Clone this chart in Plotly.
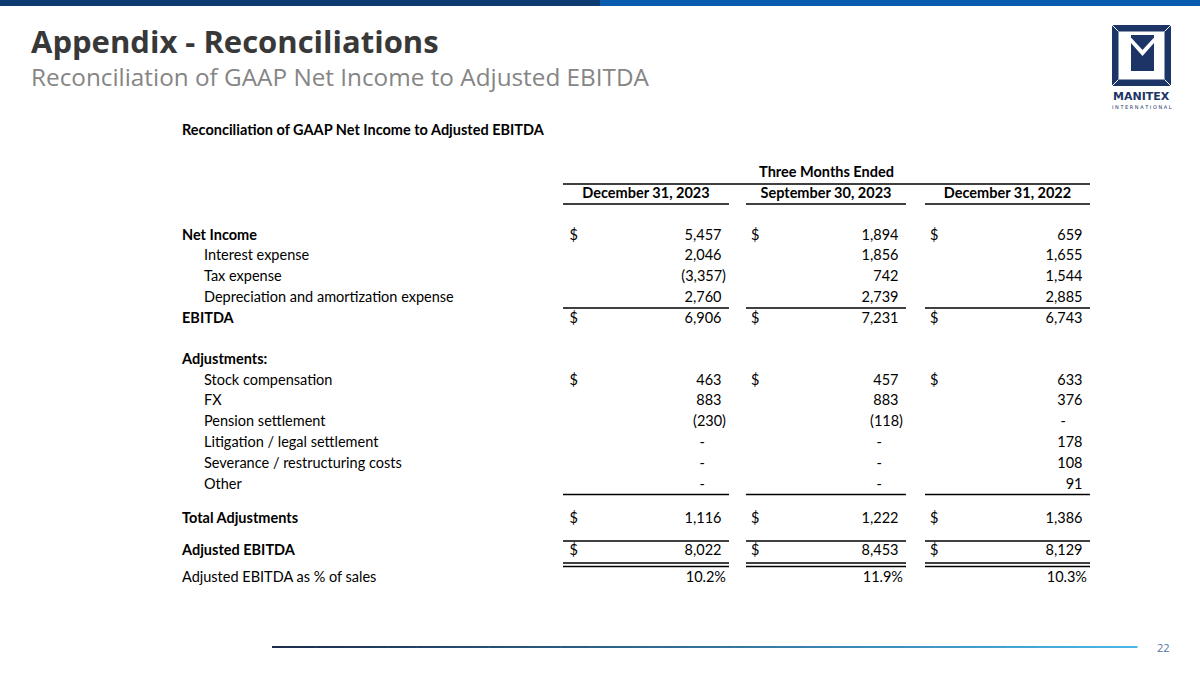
import plotly.graph_objects as go

# ---------------- data ----------------
row_labels = [
    "Net Income", "Interest expense", "Tax expense",
    "Depreciation and amortization expense", "EBITDA", "Adjustments:",
    "Stock compensation", "FX", "Pension settlement",
    "Litigation / legal settlement", "Severance / restructuring costs", "Other",
    "Total Adjustments", "Adjusted EBITDA", "Adjusted EBITDA as % of sales",
]
column_headers = ["December 31, 2023", "September 30, 2023", "December 31, 2022"]
dec_2023 = [5457, 2046, -3357, 2760, 6906, None, 463, 883, -230, 0, 0, 0, 1116, 8022, None]
sep_2023 = [1894, 1856, 742, 2739, 7231, None, 457, 883, -118, 0, 0, 0, 1222, 8453, None]
dec_2022 = [659, 1655, 1544, 2885, 6743, None, 633, 376, 0, 178, 108, 91, 1386, 8129, None]
pct_of_sales = [10.2, 11.9, 10.3]

# ---------------- styles / layout ----------------
label_bold = [True, False, False, False, True, True, False, False, False, False, False, False, True, True, False]
label_indent = [False, True, True, True, False, False, True, True, True, True, True, True, False, False, False]
show_dollar = [True, False, False, False, True, False, True, False, False, False, False, False, True, True, False]
row_y = [236, 256.7, 277.5, 298, 319, 360, 381, 401.7, 422.5, 443.5, 464.5, 485.5, 519, 551.5, 578]

col_right = [721.5, 898.5, 1082.5]
col_dollar = [569.5, 751, 930]
col_x0 = [563, 746, 925]
col_x1 = [729, 906, 1090]
col_center = [(a + b) / 2 for a, b in zip(col_x0, col_x1)]

FONT = "Lato, 'Open Sans', sans-serif"
FS = 14.5
BLACK = "#000000"
NAVY = "#1d3566"

fig = go.Figure()

# labels
lx = [182 if not ind else 204 for ind in label_indent]
ltext = [f"<b>{t}</b>" if b else t for t, b in zip(row_labels, label_bold)]
fig.add_trace(go.Scatter(x=lx, y=row_y, text=ltext, mode="text", textposition="middle right",
                         textfont=dict(family=FONT, size=FS, color=BLACK), hoverinfo="skip"))

# table title and headers
fig.add_trace(go.Scatter(x=[182], y=[131], text=["<b>Reconciliation of GAAP Net Income to Adjusted EBITDA</b>"],
                         mode="text", textposition="middle right",
                         textfont=dict(family=FONT, size=FS, color=BLACK), hoverinfo="skip"))
fig.add_trace(go.Scatter(x=[(col_x0[0] + col_x1[2]) / 2] + col_center, y=[173, 194, 194, 194],
                         text=["<b>Three Months Ended</b>"] + [f"<b>{h}</b>" for h in column_headers],
                         mode="text", textposition="middle center",
                         textfont=dict(family=FONT, size=FS, color=BLACK), hoverinfo="skip"))


def fmt(v):
    if v == 0:
        return "-"
    if v < 0:
        return f"({abs(v):,})"
    return f"{v:,}"


for ci, series in enumerate([dec_2023, sep_2023, dec_2022]):
    xs, ys, ts = [], [], []
    for ri, v in enumerate(series):
        if v is None:
            continue
        t = fmt(v)
        if v == 0:
            x = col_right[ci] - 16.5
        elif v < 0:
            x = col_right[ci] + 4.5
        else:
            x = col_right[ci]
        xs.append(x); ys.append(row_y[ri]); ts.append(t)
    xs.append(col_right[ci] + 4.5); ys.append(row_y[-1]); ts.append(f"{pct_of_sales[ci]:.1f}%")
    fig.add_trace(go.Scatter(x=xs, y=ys, text=ts, mode="text", textposition="middle left",
                             textfont=dict(family=FONT, size=FS, color=BLACK), hoverinfo="skip"))
    dy = [row_y[ri] for ri, s in enumerate(show_dollar) if s]
    fig.add_trace(go.Scatter(x=[col_dollar[ci]] * len(dy), y=dy, text=["$"] * len(dy), mode="text",
                             textposition="middle right",
                             textfont=dict(family=FONT, size=FS, color=BLACK), hoverinfo="skip"))

shapes = []
# rule under "Three Months Ended"
shapes.append(dict(type="line", xref="x", yref="y", x0=col_x0[0], x1=col_x1[2], y0=184, y1=184,
                   line=dict(color=BLACK, width=1.5)))
for ci in range(3):
    for yy in [204, 308, 494.5, 541, 563, 566.5]:
        shapes.append(dict(type="line", xref="x", yref="y", x0=col_x0[ci], x1=col_x1[ci], y0=yy, y1=yy,
                           line=dict(color=BLACK, width=1.4)))

# top bar
shapes.append(dict(type="rect", xref="x", yref="y", x0=0, x1=600, y0=0, y1=6, line=dict(width=0),
                   fillcolor="#0e3a72"))
shapes.append(dict(type="rect", xref="x", yref="y", x0=600, x1=1200, y0=0, y1=6, line=dict(width=0),
                   fillcolor="#0a5cb0"))

# bottom gradient rule
c0 = (28, 45, 78)
c1 = (74, 182, 232)
nseg = 60
bx0, bx1 = 272, 1137
for i in range(nseg):
    f = i / (nseg - 1)
    col = "rgb(%d,%d,%d)" % tuple(int(a + (b - a) * f) for a, b in zip(c0, c1))
    shapes.append(dict(type="line", xref="x", yref="y",
                       x0=bx0 + (bx1 - bx0) * i / nseg, x1=bx0 + (bx1 - bx0) * (i + 1) / nseg + 0.5,
                       y0=647, y1=647, line=dict(color=col, width=2)))

# logo frame
shapes.append(dict(type="rect", xref="x", yref="y", x0=1112, x1=1171, y0=25, y1=86, line=dict(width=0),
                   fillcolor=NAVY))
shapes.append(dict(type="rect", xref="x", yref="y", x0=1118.5, x1=1164.5, y0=31.5, y1=79.5, line=dict(width=0),
                   fillcolor="white"))
for (ax, ay, bx, by) in [(1112, 25, 1118.5, 31.5), (1171, 25, 1164.5, 31.5),
                         (1112, 86, 1118.5, 79.5), (1171, 86, 1164.5, 79.5)]:
    shapes.append(dict(type="line", xref="x", yref="y", x0=ax, y0=ay, x1=bx, y1=by,
                       line=dict(color="white", width=1)))
# logo emblem: inverted triangle over a notched block
shapes.append(dict(type="path", xref="x", yref="y",
                   path="M 1131 35 L 1154 35 L 1154 37.5 L 1142.5 50 L 1131 37.5 Z",
                   line=dict(width=0), fillcolor=NAVY))
shapes.append(dict(type="path", xref="x", yref="y",
                   path="M 1131 43 L 1142.5 56 L 1154 43 L 1154 71 L 1131 71 Z",
                   line=dict(width=0), fillcolor=NAVY))

annotations = [
    dict(x=29, y=40.5, xref="x", yref="y", text="<b>Appendix - Reconciliations</b>", showarrow=False,
         xanchor="left", yanchor="middle", font=dict(family="'Open Sans', sans-serif", size=31, color="#383838")),
    dict(x=29, y=76.5, xref="x", yref="y", text="Reconciliation of GAAP Net Income to Adjusted EBITDA",
         showarrow=False, xanchor="left", yanchor="middle",
         font=dict(family="'Open Sans', sans-serif", size=24.3, color="#858585")),
    dict(x=1141.5, y=96.5, xref="x", yref="y", text="<b>MANITEX</b>", showarrow=False,
         xanchor="center", yanchor="middle", font=dict(family="'DejaVu Sans', sans-serif", size=11, color=NAVY)),
    dict(x=1141.5, y=106.5, xref="x", yref="y", text="I N T E R N A T I O N A L", showarrow=False,
         xanchor="center", yanchor="middle", font=dict(family="'DejaVu Sans', sans-serif", size=5, color=NAVY)),
    dict(x=1163, y=647, xref="x", yref="y", text="22", showarrow=False,
         xanchor="center", yanchor="middle", font=dict(family="'Open Sans', sans-serif", size=11, color="#4f72a8")),
]

fig.update_layout(
    width=1200, height=675,
    margin=dict(l=0, r=0, t=0, b=0),
    paper_bgcolor="white", plot_bgcolor="white",
    showlegend=False,
    xaxis=dict(range=[0, 1200], visible=False, fixedrange=True),
    yaxis=dict(range=[675, 0], visible=False, fixedrange=True),
    shapes=shapes, annotations=annotations,
)

fig.write_html("out.html", config={"displayModeBar": False},
               post_script="document.body.style.margin='0';document.body.style.overflow='hidden';")
